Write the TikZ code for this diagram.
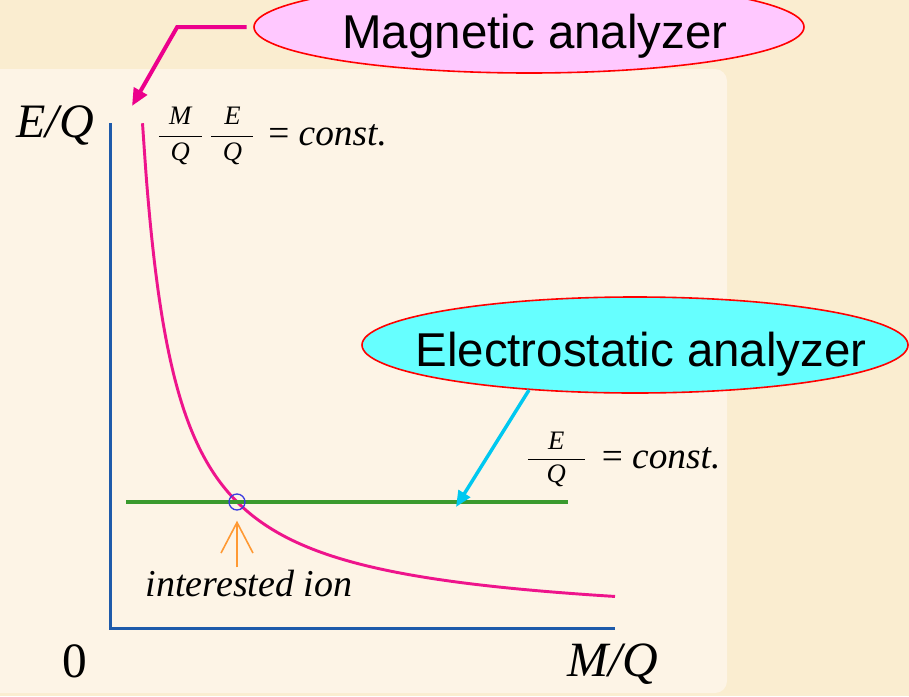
\documentclass[tikz,border=0pt]{standalone}
\usepackage{amsmath}
\usepackage{fontspec}
\setmainfont{Liberation Serif}
\setsansfont{Liberation Sans}
\usetikzlibrary{positioning, arrows.meta, shapes.geometric}

\definecolor{parch}{RGB}{250,237,208}
\definecolor{panel}{RGB}{253,244,230}
\definecolor{axisblue}{RGB}{30,90,170}
\definecolor{curvepink}{RGB}{238,20,140}
\definecolor{eqgreen}{RGB}{58,154,46}
\definecolor{hitblue}{RGB}{60,60,225}
\definecolor{ionorange}{RGB}{255,153,51}
\definecolor{magfill}{RGB}{255,200,255}
\definecolor{esfill}{RGB}{102,255,255}
\definecolor{escyan}{RGB}{0,200,240}

% fraction with a bar of given width, letters in text italic
\newcommand{\qpart}[1]{\text{\fontsize{20}{22}\selectfont\itshape #1}}
\newcommand{\qfrac}[4]{\frac{\makebox[#3]{\raisebox{#4}{\qpart{#1}}}}{\raisebox{-0.5\dimexpr#4\relax}{\qpart{#2}}}}

\begin{document}
\begin{tikzpicture}[
  x=0.75pt, y=-0.75pt,
  bubble/.style={ellipse, draw=red, line width=1.2pt, inner sep=0pt},
  bubbletxt/.style={font=\sffamily\fontsize{35.6}{40}\selectfont, inner sep=0pt, anchor=base},
  axislbl/.style={font=\fontsize{37}{40}\selectfont, inner sep=0pt, anchor=base},
  relation/.style={font=\fontsize{28}{32}\selectfont, inner sep=0pt, anchor=base west},
  axis/.style={draw=axisblue, line width=2.25pt},
  curve/.style={draw=curvepink, line width=2.2pt},
  eqline/.style={draw=eqgreen, line width=2.4pt},
  magptr/.style={draw=magenta, line width=3pt, -{Triangle[length=13pt, width=11pt]}},
  esptr/.style={draw=escyan, line width=2.6pt, -{Triangle[length=12pt, width=10pt]}},
  ionptr/.style={draw=ionorange, line width=1.2pt, -{Straight Barb[length=23pt, width=24pt]}}
]
\useasboundingbox (0,0) rectangle (909,696);
\fill[parch] (0,0) rectangle (909,696);
\fill[panel, rounded corners=9pt] (-20,69) rectangle (727,693);

% axes and labels
\draw[axis] (110,123) |- (615,628);
\node[axislbl, font=\fontsize{36}{40}\selectfont\itshape] (elbl) at (55,137) {E/Q};
\node[axislbl, font=\fontsize{37}{40}\selectfont\itshape] (mlbl) at (613,676) {M/Q};
\node[axislbl] (zero) at (75,677) {0};

% the two conditions
\draw[curve] plot[domain=142.5:615, samples=120, smooth] (\x, {628-15900/(\x-111)});
\draw[eqline] (126,502) -- (568,502);
\node[circle, draw=hitblue, line width=1pt, minimum size=12pt, inner sep=0pt] (hit) at (237,502) {};

\node[relation] (mqeq) at (157,145)
  {$\qfrac{M}{Q}{32pt}{5.5pt}\hspace{5pt}\qfrac{E}{Q}{31.5pt}{5.5pt}$\hspace{3pt} = \textit{const.}};
\node[relation] (eqeq) at (526,468)
  {$\qfrac{E}{Q}{42.75pt}{4pt}$\hspace{4.5pt} = \textit{const.}};

\node[relation, anchor=base, font=\fontsize{28.5}{32}\selectfont\itshape, inner sep=1.5pt]
  (ion) at (249,596) {interested ion};
\draw[ionptr, shorten >=7.5pt] (ion.north -| hit.south) -- (hit.south);

% analyzers
\node[bubble, fill=magfill, minimum width=412.5pt, minimum height=69pt] (mag) at (529,27) {};
\node[bubbletxt] (magtxt) at (535,48) {Magnetic analyzer};
\coordinate (mtip) at (132,106);
\draw[magptr, shorten <=5pt] (mag.west) -- ++(-76,0) -- (mtip);

\node[bubble, fill=esfill, minimum width=409.5pt, minimum height=72pt] (es) at (635,345) {};
\node[bubbletxt] (estxt) at (641,366) {Electrostatic analyzer};
\coordinate (etip) at (456,507);
\draw[esptr] (es.203) -- (etip);

\end{tikzpicture}
\end{document}
